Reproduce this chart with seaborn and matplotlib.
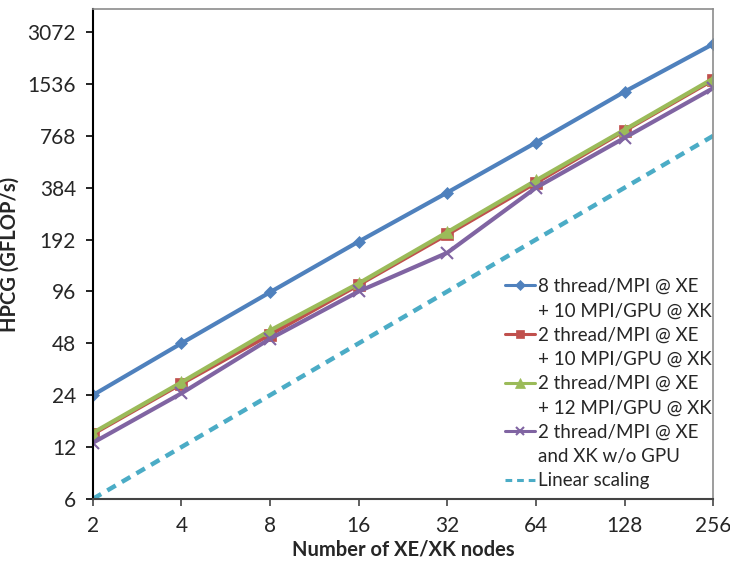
import matplotlib
matplotlib.use("Agg")
import matplotlib.pyplot as plt
from matplotlib.lines import Line2D
import seaborn as sns
import pandas as pd
import numpy as np

nodes = [2, 4, 8, 16, 32, 64, 128, 256]
blue_vals = [24, 48, 95, 187, 360, 702, 1385, 2620]
red_vals = [14.3, 28, 54, 105, 206, 411, 823, 1624]
green_vals = [14.5, 28.5, 57, 107, 212, 423, 833, 1650]
purple_vals = [12.7, 24.6, 51, 96, 161, 384, 748, 1453]
linear_vals = [6, 12, 24, 48, 96, 192, 384, 768]

labels = [
    "8 thread/MPI @ XE\n+ 10 MPI/GPU @ XK",
    "2 thread/MPI @ XE\n+ 10 MPI/GPU @ XK",
    "2 thread/MPI @ XE\n+ 12 MPI/GPU @ XK",
    "2 thread/MPI @ XE\nand XK w/o GPU",
    "Linear scaling",
]
y_ticks = [6, 12, 24, 48, 96, 192, 384, 768, 1536, 3072]

colors = ["#4F81BD", "#C0504D", "#9BBB59", "#8064A2", "#4BACC6"]
markers = ["D", "s", "^", "x", None]
msizes = [6.5, 8, 9, 8, 0]

sns.set_style("white")
plt.rcParams["font.family"] = ["Lato", "DejaVu Sans"]

fig = plt.figure(figsize=(7.3, 5.63), dpi=100)
ax = fig.add_axes([0.127, 0.1137, 0.85, 0.8703])

series = [blue_vals, red_vals, green_vals, purple_vals, linear_vals]
for vals, lab, col, mk, ms in zip(series, labels, colors, markers, msizes):
    df = pd.DataFrame({"nodes": nodes, "gflops": vals})
    if mk is None:
        sns.lineplot(data=df, x="nodes", y="gflops", ax=ax, color=col,
                     linewidth=3.2, label=lab, linestyle=(0, (2.2, 1.6)))
    else:
        sns.lineplot(data=df, x="nodes", y="gflops", ax=ax, color=col,
                     linewidth=3.0, marker=mk, markersize=ms,
                     markeredgecolor=col, markeredgewidth=1.5 if mk == "x" else 0.5,
                     label=lab)

ax.set_xscale("log", base=2)
ax.set_yscale("log", base=2)
ax.set_xlim(2, 256)
ax.set_ylim(6, 4180)
ax.set_xticks(nodes)
ax.set_xticklabels([str(n) for n in nodes])
ax.set_yticks(y_ticks)
ax.set_yticklabels([str(t) for t in y_ticks])
ax.minorticks_off()

ax.tick_params(axis="y", direction="out", length=5, width=1.2, color="black",
               labelsize=15, pad=7, left=True)
ax.tick_params(axis="x", direction="out", length=5, width=1.2, color="#444444",
               labelsize=15, pad=7, bottom=True)

ax.spines["left"].set_color("black")
ax.spines["left"].set_linewidth(1.5)
ax.spines["bottom"].set_color("#444444")
ax.spines["bottom"].set_linewidth(1.5)
for s in ["top", "right"]:
    ax.spines[s].set_color("#8c8c8c")
    ax.spines[s].set_linewidth(1.2)

ax.set_xlabel("Number of XE/XK nodes", fontsize=14.5, fontweight="bold", labelpad=3)
ax.set_ylabel("HPCG (GFLOP/s)", fontsize=14.5, fontweight="bold", labelpad=6)

# legend: one row per text line, continuation rows with empty handles
handles, labs = ax.get_legend_handles_labels()
leg_h, leg_l = [], []
for h, l in zip(handles, labs):
    parts = l.split("\n")
    leg_h.append(h)
    leg_l.append(parts[0])
    for p in parts[1:]:
        leg_h.append(Line2D([], [], linestyle="none", marker=None, color="none"))
        leg_l.append(p)
if ax.get_legend():
    ax.get_legend().remove()
leg = ax.legend(leg_h, leg_l, loc="lower left", bbox_to_anchor=(0.655, 0.008),
                fontsize=13.5, frameon=False, handlelength=1.6, handletextpad=0.15,
                labelspacing=0.39, borderpad=0.3, borderaxespad=0)
for h in leg.legend_handles:
    if h.get_color() != "none":
        h.set_linewidth(2.2)
        h.set_markersize(h.get_markersize() * 0.75)

fig.savefig("out.png", dpi=100)
